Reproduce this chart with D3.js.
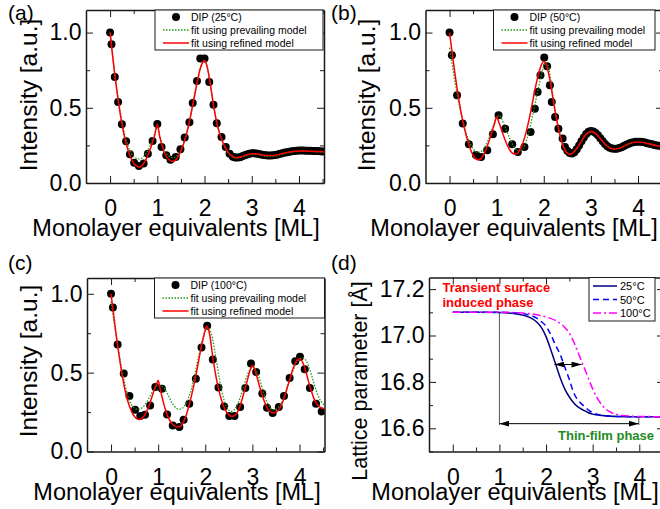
<!DOCTYPE html>
<html>
<head>
<meta charset="utf-8">
<script src="https://cdn.jsdelivr.net/npm/d3@7"></script>
<style>
  html, body { margin: 0; padding: 0; background: #fff; }
  svg { display: block; }
  text { font-family: 'Liberation Sans', Arial, Helvetica, sans-serif; }
</style>
</head>
<body>
<svg id="fig" width="660" height="509"></svg>
<script>
// ---------------- data ----------------
const xTicks = [0, 1, 2, 3, 4];
const xMinorTicks = [0.5, 1.5, 2.5, 3.5, 4.5];
const intensityTicks = [0.0, 0.5, 1.0];
const intensityMinorTicks = [0.25, 0.75];
const latticeTicks = [16.6, 16.8, 17.0, 17.2];
const latticeMinorTicks = [16.5, 16.7, 16.9, 17.1];
const panelLabels = ["(a)", "(b)", "(c)", "(d)"];
const dipLabels = ["DIP (25°C)", "DIP (50°C)", "DIP (100°C)"];
const fitLabels = ["fit using prevailing model", "fit using refined model"];
const temperatureLabels = ["25°C", "50°C", "100°C"];

// DIP 25 °C: [ML, intensity]
const dip25 = [[0,1.0],[0.03,0.922],[0.1,0.705],[0.17,0.539],[0.25,0.39],[0.34,0.277],[0.42,0.191],[0.51,0.135],[0.61,0.113],[0.71,0.129],[0.8,0.195],[0.9,0.279],[1.0,0.392],[1.09,0.24],[1.19,0.184],[1.28,0.155],[1.39,0.173],[1.49,0.224],[1.58,0.302],[1.68,0.404],[1.75,0.532],[1.84,0.678],[1.91,0.827],[2.0,0.827],[2.1,0.672],[2.19,0.52],[2.26,0.397],[2.36,0.306],[2.45,0.24],[2.53,0.195],
  [2.6,0.175],[2.65,0.17],[2.7,0.17],[2.75,0.172],[2.8,0.178],[2.85,0.185],[2.9,0.19],[2.95,0.195],[3.0,0.198],[3.05,0.198],[3.1,0.196],[3.15,0.193],[3.2,0.19],[3.25,0.186],[3.3,0.184],[3.35,0.183],[3.4,0.183],[3.45,0.184],[3.5,0.186],[3.55,0.19],[3.6,0.194],[3.65,0.198],[3.7,0.202],[3.75,0.205],[3.8,0.208],[3.85,0.211],[3.9,0.213],[3.95,0.215],[4.0,0.216],[4.05,0.216],[4.1,0.216],[4.15,0.215],[4.2,0.215],[4.25,0.214],[4.3,0.213],[4.35,0.212],[4.4,0.212],[4.45,0.211],[4.5,0.21]];
const prevailingFit25 = [[0,1.0],[0.05,0.86],[0.1,0.725],[0.15,0.605],[0.2,0.5],[0.25,0.41],[0.3,0.335],[0.35,0.275],[0.4,0.23],[0.45,0.197],[0.5,0.177],[0.55,0.165],[0.6,0.16],[0.65,0.162],[0.7,0.172],[0.75,0.19],[0.8,0.215],[0.85,0.25],[0.9,0.29],[0.95,0.335],[1.0,0.378],[1.05,0.315],[1.1,0.26],[1.15,0.22],[1.2,0.194],[1.25,0.178],[1.3,0.17],[1.35,0.169],[1.4,0.176],[1.45,0.192],[1.5,0.222],[1.55,0.26],[1.6,0.308],[1.65,0.367],[1.7,0.437],[1.75,0.515],[1.8,0.597],[1.85,0.675],[1.9,0.745],[1.95,0.793],[2.0,0.812],[2.05,0.78],[2.1,0.7],[2.15,0.6],[2.2,0.5],[2.25,0.415],[2.3,0.35],[2.35,0.3],[2.4,0.258],[2.45,0.226],[2.5,0.2],[2.55,0.183],[2.6,0.172],[2.65,0.166],[2.7,0.165],[2.8,0.172],[2.9,0.183],[3.0,0.19],[3.1,0.19],[3.2,0.184],[3.3,0.178],[3.4,0.177],[3.5,0.18],[3.6,0.188],[3.7,0.196],[3.8,0.203],[3.9,0.208],[4.0,0.21],[4.2,0.21],[4.4,0.207],[4.53,0.205]];
const refinedFit25 = [[0,1.0],[0.05,0.855],[0.1,0.72],[0.15,0.6],[0.2,0.49],[0.25,0.395],[0.3,0.315],[0.35,0.25],[0.4,0.2],[0.45,0.16],[0.5,0.133],[0.55,0.115],[0.6,0.107],[0.65,0.11],[0.7,0.125],[0.75,0.15],[0.8,0.185],[0.85,0.225],[0.9,0.27],[0.95,0.325],[1.0,0.39],[1.05,0.31],[1.1,0.25],[1.15,0.2],[1.2,0.172],[1.25,0.155],[1.3,0.145],[1.35,0.145],[1.4,0.158],[1.45,0.18],[1.5,0.215],[1.55,0.255],[1.6,0.305],[1.65,0.365],[1.7,0.44],[1.75,0.52],[1.8,0.6],[1.85,0.68],[1.9,0.75],[1.95,0.795],[2.0,0.815],[2.05,0.78],[2.1,0.7],[2.15,0.6],[2.2,0.5],[2.25,0.415],[2.3,0.35],[2.35,0.3],[2.4,0.26],[2.45,0.23],[2.5,0.205],[2.55,0.188],[2.6,0.176],[2.65,0.17],[2.7,0.169],[2.8,0.177],[2.9,0.188],[3.0,0.195],[3.1,0.194],[3.2,0.188],[3.3,0.183],[3.4,0.182],[3.5,0.185],[3.6,0.192],[3.7,0.2],[3.8,0.206],[3.9,0.211],[4.0,0.213],[4.1,0.213],[4.2,0.212],[4.3,0.211],[4.4,0.209],[4.53,0.207]];

// DIP 50 °C
const dip50 = [[0,1.0],[0.05,0.849],[0.16,0.583],[0.28,0.395],[0.41,0.257],[0.56,0.186],[0.67,0.173],[0.8,0.217],[0.92,0.324],[1.04,0.45],[1.18,0.361],[1.33,0.257],[1.45,0.206],[1.59,0.24],[1.72,0.339],[1.81,0.494],[1.87,0.605],[1.93,0.716],[2.01,0.834],[2.07,0.776],[2.13,0.65],[2.17,0.539],[2.24,0.439],[2.31,0.361],[2.4,0.295],[2.45,0.24],
  [2.5,0.215],[2.55,0.2],[2.6,0.196],[2.65,0.205],[2.7,0.225],[2.75,0.25],[2.8,0.278],[2.85,0.303],[2.9,0.325],[2.95,0.34],[3.0,0.346],[3.05,0.343],[3.1,0.333],[3.15,0.317],[3.2,0.298],[3.25,0.278],[3.3,0.26],[3.35,0.245],[3.4,0.235],[3.45,0.229],[3.5,0.227],[3.55,0.228],[3.6,0.232],[3.65,0.238],[3.7,0.246],[3.75,0.254],[3.8,0.261],[3.85,0.267],[3.9,0.271],[3.95,0.274],[4.0,0.275],[4.05,0.274],[4.1,0.272],[4.15,0.269],[4.2,0.265],[4.25,0.261],[4.3,0.257],[4.35,0.253],[4.4,0.25],[4.45,0.247],[4.5,0.245]];
const prevailingFit50 = [[0,0.9],[0.05,0.8],[0.1,0.7],[0.15,0.61],[0.2,0.53],[0.25,0.455],[0.3,0.39],[0.35,0.335],[0.4,0.29],[0.45,0.255],[0.5,0.228],[0.55,0.21],[0.6,0.203],[0.65,0.205],[0.7,0.218],[0.75,0.24],[0.8,0.27],[0.85,0.31],[0.9,0.355],[0.95,0.4],[1.0,0.435],[1.05,0.45],[1.1,0.43],[1.15,0.395],[1.2,0.355],[1.25,0.315],[1.3,0.28],[1.35,0.25],[1.4,0.228],[1.45,0.215],[1.5,0.213],[1.55,0.225],[1.6,0.255],[1.65,0.3],[1.7,0.36],[1.75,0.43],[1.8,0.5],[1.85,0.58],[1.9,0.65],[1.95,0.72],[2.0,0.78],[2.05,0.8],[2.1,0.77],[2.15,0.68],[2.2,0.57],[2.25,0.47],[2.3,0.385],[2.35,0.315],[2.4,0.262],[2.45,0.225],[2.5,0.203],[2.55,0.194],[2.6,0.197],[2.7,0.228],[2.8,0.275],[2.9,0.32],[3.0,0.338],[3.1,0.328],[3.2,0.295],[3.3,0.26],[3.4,0.235],[3.5,0.228],[3.6,0.232],[3.7,0.245],[3.8,0.258],[3.9,0.268],[4.0,0.272],[4.1,0.27],[4.2,0.264],[4.3,0.257],[4.4,0.25],[4.53,0.244]];
const refinedFit50 = [[0,1.0],[0.05,0.88],[0.1,0.76],[0.15,0.65],[0.2,0.55],[0.25,0.46],[0.3,0.385],[0.35,0.32],[0.4,0.265],[0.45,0.22],[0.5,0.185],[0.55,0.162],[0.6,0.155],[0.65,0.158],[0.7,0.175],[0.75,0.205],[0.8,0.245],[0.85,0.29],[0.9,0.34],[0.95,0.39],[1.0,0.44],[1.05,0.4],[1.1,0.355],[1.15,0.31],[1.2,0.27],[1.25,0.235],[1.3,0.21],[1.35,0.196],[1.4,0.192],[1.45,0.2],[1.5,0.225],[1.55,0.26],[1.6,0.31],[1.65,0.37],[1.7,0.44],[1.75,0.52],[1.8,0.6],[1.85,0.675],[1.9,0.74],[1.95,0.785],[2.0,0.81],[2.05,0.79],[2.1,0.73],[2.15,0.65],[2.2,0.55],[2.25,0.46],[2.3,0.38],[2.35,0.31],[2.4,0.255],[2.45,0.218],[2.5,0.198],[2.55,0.19],[2.6,0.195],[2.7,0.23],[2.8,0.28],[2.9,0.325],[3.0,0.342],[3.1,0.33],[3.2,0.295],[3.3,0.258],[3.4,0.232],[3.5,0.225],[3.6,0.23],[3.7,0.245],[3.8,0.26],[3.9,0.27],[4.0,0.273],[4.1,0.27],[4.2,0.263],[4.3,0.255],[4.4,0.248],[4.53,0.242]];

// DIP 100 °C
const dip100 = [[0,1.0],[0.04,0.913],[0.14,0.678],[0.27,0.494],[0.39,0.352],[0.51,0.265],[0.62,0.225],[0.72,0.233],[0.83,0.292],[0.94,0.409],[1.08,0.398],[1.19,0.235],[1.31,0.165],[1.45,0.155],[1.54,0.202],[1.66,0.303],[1.8,0.462],[1.92,0.659],[2.04,0.797],[2.16,0.583],[2.28,0.405],[2.4,0.286],[2.51,0.225],[2.62,0.225],[2.74,0.282],[2.85,0.403],[2.97,0.558],[3.08,0.504],[3.21,0.367],[3.31,0.278],[3.43,0.244],[3.56,0.282],[3.67,0.352],[3.79,0.466],[3.91,0.572],[4.01,0.6],[4.11,0.521],[4.22,0.403],[4.35,0.303],[4.47,0.254]];
const prevailingFit100 = [[0,0.95],[0.05,0.85],[0.1,0.75],[0.15,0.66],[0.2,0.57],[0.25,0.49],[0.3,0.42],[0.35,0.36],[0.4,0.315],[0.45,0.29],[0.5,0.275],[0.55,0.268],[0.6,0.268],[0.65,0.275],[0.7,0.29],[0.75,0.31],[0.8,0.335],[0.85,0.365],[0.9,0.39],[0.95,0.41],[1.0,0.42],[1.05,0.42],[1.1,0.41],[1.15,0.39],[1.2,0.365],[1.25,0.335],[1.3,0.305],[1.35,0.285],[1.4,0.272],[1.45,0.268],[1.5,0.272],[1.55,0.285],[1.6,0.31],[1.65,0.345],[1.7,0.39],[1.75,0.45],[1.8,0.52],[1.85,0.59],[1.9,0.66],[1.95,0.72],[2.0,0.765],[2.05,0.785],[2.1,0.77],[2.15,0.72],[2.2,0.64],[2.25,0.55],[2.3,0.46],[2.35,0.385],[2.4,0.325],[2.45,0.285],[2.5,0.262],[2.55,0.255],[2.6,0.26],[2.65,0.28],[2.7,0.31],[2.75,0.35],[2.8,0.4],[2.85,0.45],[2.9,0.49],[2.95,0.52],[3.0,0.535],[3.05,0.53],[3.1,0.5],[3.15,0.46],[3.2,0.41],[3.25,0.36],[3.3,0.32],[3.35,0.29],[3.4,0.272],[3.45,0.265],[3.5,0.268],[3.55,0.28],[3.6,0.3],[3.65,0.33],[3.7,0.37],[3.75,0.415],[3.8,0.46],[3.85,0.505],[3.9,0.54],[3.95,0.568],[4.0,0.585],[4.05,0.595],[4.1,0.59],[4.15,0.57],[4.2,0.535],[4.25,0.49],[4.3,0.44],[4.35,0.39],[4.4,0.35],[4.45,0.32],[4.53,0.295]];
const refinedFit100 = [[0,1.0],[0.05,0.88],[0.1,0.76],[0.15,0.65],[0.2,0.55],[0.25,0.46],[0.3,0.385],[0.35,0.325],[0.4,0.28],[0.45,0.245],[0.5,0.222],[0.55,0.207],[0.6,0.203],[0.65,0.208],[0.7,0.225],[0.75,0.25],[0.8,0.285],[0.85,0.33],[0.9,0.375],[0.95,0.415],[1.0,0.45],[1.04,0.4],[1.08,0.35],[1.12,0.3],[1.16,0.26],[1.2,0.225],[1.25,0.195],[1.3,0.175],[1.35,0.163],[1.4,0.157],[1.45,0.157],[1.5,0.168],[1.55,0.195],[1.6,0.235],[1.65,0.285],[1.7,0.345],[1.75,0.41],[1.8,0.48],[1.85,0.56],[1.9,0.64],[1.95,0.71],[2.0,0.77],[2.03,0.795],[2.07,0.77],[2.1,0.73],[2.15,0.62],[2.2,0.52],[2.25,0.44],[2.3,0.375],[2.35,0.32],[2.4,0.28],[2.45,0.25],[2.5,0.232],[2.55,0.223],[2.6,0.225],[2.65,0.235],[2.7,0.26],[2.75,0.3],[2.8,0.35],[2.85,0.405],[2.9,0.46],[2.95,0.515],[3.0,0.545],[3.05,0.52],[3.1,0.47],[3.15,0.415],[3.2,0.365],[3.25,0.32],[3.3,0.285],[3.35,0.262],[3.4,0.25],[3.45,0.245],[3.5,0.25],[3.55,0.262],[3.6,0.285],[3.65,0.32],[3.7,0.365],[3.75,0.415],[3.8,0.465],[3.85,0.515],[3.9,0.555],[3.95,0.58],[4.0,0.59],[4.05,0.575],[4.1,0.54],[4.15,0.49],[4.2,0.435],[4.25,0.385],[4.3,0.34],[4.35,0.31],[4.4,0.29],[4.45,0.278],[4.53,0.27]];

// lattice parameter [Å] vs ML
const lattice25 = [[0,17.1],[0.5,17.1],[1.0,17.099],[1.2,17.097],[1.4,17.092],[1.6,17.082],[1.7,17.073],[1.8,17.058],[1.9,17.035],[2.0,16.995],[2.1,16.94],[2.2,16.88],[2.3,16.82],[2.4,16.77],[2.5,16.735],[2.6,16.708],[2.7,16.69],[2.8,16.678],[2.9,16.668],[3.0,16.661],[3.2,16.655],[3.5,16.651],[4.0,16.65],[4.53,16.65]];
const lattice50 = [[0,17.1],[1.0,17.1],[1.4,17.097],[1.6,17.09],[1.8,17.075],[1.9,17.06],[2.0,17.04],[2.1,17.005],[2.2,16.96],[2.3,16.92],[2.4,16.865],[2.5,16.81],[2.6,16.75],[2.7,16.718],[2.8,16.698],[2.9,16.68],[3.0,16.668],[3.2,16.656],[3.5,16.651],[4.0,16.65],[4.53,16.65]];
const lattice100 = [[0,17.1],[1.0,17.1],[1.4,17.098],[1.7,17.093],[2.0,17.08],[2.2,17.065],[2.4,17.035],[2.5,17.01],[2.6,16.97],[2.7,16.92],[2.8,16.87],[2.9,16.82],[3.0,16.77],[3.1,16.73],[3.2,16.7],[3.3,16.68],[3.4,16.668],[3.6,16.657],[3.8,16.653],[4.0,16.651],[4.53,16.65]];

// phase annotations (ML, Å)
const phaseBoundaryML = 1.0;
const surfacePhaseLevel = 17.1;
const thinFilmSpanML = [1.0, 3.99];
const thinFilmLevel = 16.62;
const thinFilmEndTick = [16.614, 16.65];
const shiftSpanML = [2.18, 2.76];
const shiftLevel = 16.875;
const phaseTexts = ["Transient surface", "induced phase", "Thin-film phase"];

// ---------------- drawing ----------------
const FONT = "'Liberation Sans', Arial, Helvetica, sans-serif";
const AXIS = "#1a1a1a";
const RED = "#ff0000", GREEN = "#1e9a1e";
const svg = d3.select("#fig");
const defs = svg.append("defs");

defs.append("marker")
  .attr("id", "arrowHead")
  .attr("viewBox", "0 0 10 6")
  .attr("refX", 10).attr("refY", 3)
  .attr("markerWidth", 10).attr("markerHeight", 6)
  .attr("markerUnits", "userSpaceOnUse")
  .attr("orient", "auto-start-reverse")
  .append("path").attr("d", "M0,0L10,3L0,6Z").attr("fill", "#000");

const xDomain = [-0.51, 4.53];

function styleAxis(sel, fontSize) {
  sel.attr("font-family", FONT).attr("font-size", fontSize);
  sel.selectAll("path.domain").attr("stroke", AXIS).attr("stroke-width", 1.5);
  sel.selectAll(".tick line").attr("stroke", AXIS).attr("stroke-width", 1);
  sel.selectAll(".tick text").attr("fill", "#000");
}

function buildPanel(cfg) {
  const g = svg.append("g");
  const x = d3.scaleLinear().domain(xDomain).range([cfg.left, cfg.right]);
  const y = d3.scaleLinear().domain(cfg.yDomain).range([cfg.bottom, cfg.top]);
  const clipId = "clip-" + cfg.key;
  defs.append("clipPath").attr("id", clipId).append("rect")
    .attr("x", cfg.left).attr("y", cfg.top)
    .attr("width", cfg.right - cfg.left).attr("height", cfg.bottom - cfg.top);

  const fmt = d3.format(".1f");
  // minor ticks (inward)
  g.append("g").attr("transform", `translate(0,${cfg.bottom})`)
    .call(d3.axisBottom(x).tickValues(xMinorTicks).tickSize(-4).tickSizeOuter(0).tickFormat(""))
    .call(s => { styleAxis(s, 10); s.select("path.domain").remove(); });
  g.append("g").attr("transform", `translate(0,${cfg.top})`)
    .call(d3.axisTop(x).tickValues(xMinorTicks).tickSize(-4).tickSizeOuter(0).tickFormat(""))
    .call(s => { styleAxis(s, 10); s.select("path.domain").remove(); });
  g.append("g").attr("transform", `translate(${cfg.left},0)`)
    .call(d3.axisLeft(y).tickValues(cfg.yMinor).tickSize(-4).tickSizeOuter(0).tickFormat(""))
    .call(s => { styleAxis(s, 10); s.select("path.domain").remove(); });
  g.append("g").attr("transform", `translate(${cfg.right},0)`)
    .call(d3.axisRight(y).tickValues(cfg.yMinor).tickSize(-4).tickSizeOuter(0).tickFormat(""))
    .call(s => { styleAxis(s, 10); s.select("path.domain").remove(); });

  // major ticks, labels and frame
  g.append("g").attr("transform", `translate(0,${cfg.bottom})`)
    .call(d3.axisBottom(x).tickValues(xTicks).tickSize(-7).tickSizeOuter(0).tickPadding(17).tickFormat(d3.format("d")))
    .call(s => styleAxis(s, 23));
  g.append("g").attr("transform", `translate(0,${cfg.top})`)
    .call(d3.axisTop(x).tickValues(xTicks).tickSize(-7).tickSizeOuter(0).tickFormat(""))
    .call(s => styleAxis(s, 10));
  g.append("g").attr("transform", `translate(${cfg.left},0)`)
    .call(d3.axisLeft(y).tickValues(cfg.yTicks).tickSize(-7).tickSizeOuter(0).tickPadding(4.5).tickFormat(fmt))
    .call(s => styleAxis(s, 23));
  g.append("g").attr("transform", `translate(${cfg.right},0)`)
    .call(d3.axisRight(y).tickValues(cfg.yTicks).tickSize(-7).tickSizeOuter(0).tickFormat(""))
    .call(s => styleAxis(s, 10));

  // axis titles
  g.append("text")
    .attr("x", cfg.xTitleX).attr("y", cfg.xTitleY)
    .attr("text-anchor", "middle").attr("font-size", 23.5)
    .text("Monolayer equivalents [ML]");
  g.append("text")
    .attr("transform", `translate(${cfg.yTitleX},${cfg.yTitleY}) rotate(-90)`)
    .attr("text-anchor", "middle").attr("font-size", cfg.yTitleSize)
    .text(cfg.yTitle);

  // panel label
  g.append("text").attr("x", cfg.labelX).attr("y", cfg.labelY)
    .attr("font-size", 21).text(cfg.label);

  const plot = g.append("g").attr("clip-path", `url(#${clipId})`);
  return { g, plot, x, y };
}

function intensityPanel(cfg, dip, prevailing, refined, dipLabel) {
  const p = buildPanel(cfg);
  const line = d3.line().x(d => p.x(d[0])).y(d => p.y(d[1])).curve(d3.curveMonotoneX);

  p.plot.append("g").selectAll("circle").data(dip).join("circle")
    .attr("cx", d => p.x(d[0])).attr("cy", d => p.y(d[1])).attr("r", 4)
    .attr("fill", "#000");
  p.plot.append("path").datum(prevailing).attr("d", line)
    .attr("fill", "none").attr("stroke", GREEN).attr("stroke-width", 1.3)
    .attr("stroke-dasharray", "1.5,1.5");
  p.plot.append("path").datum(refined).attr("d", line)
    .attr("fill", "none").attr("stroke", RED).attr("stroke-width", 1.5);

  // legend
  const L = cfg.legend;
  const lg = p.g.append("g");
  lg.append("rect").attr("x", L.x).attr("y", L.y).attr("width", L.w).attr("height", L.h)
    .attr("fill", "#fff").attr("stroke", AXIS).attr("stroke-width", 1);
  const rows = [L.y + 7, L.y + 20, L.y + 33];
  lg.append("circle").attr("cx", L.x + 21).attr("cy", rows[0]).attr("r", 4).attr("fill", "#000");
  lg.append("line").attr("x1", L.x + 8).attr("x2", L.x + 34).attr("y1", rows[1]).attr("y2", rows[1])
    .attr("stroke", GREEN).attr("stroke-width", 1.3).attr("stroke-dasharray", "1.5,1.5");
  lg.append("line").attr("x1", L.x + 8).attr("x2", L.x + 34).attr("y1", rows[2]).attr("y2", rows[2])
    .attr("stroke", RED).attr("stroke-width", 1.5);
  [dipLabel, fitLabels[0], fitLabels[1]].forEach((t, i) => {
    lg.append("text").attr("x", L.x + 36).attr("y", rows[i] + 4)
      .attr("font-size", 10.5).text(t);
  });
}

intensityPanel({
  key: "a", left: 86, right: 324, top: 10, bottom: 183,
  yDomain: [0, 1.15], yTicks: intensityTicks, yMinor: intensityMinorTicks,
  xTitleX: 176, xTitleY: 236, yTitleX: 37, yTitleY: 95, yTitle: "Intensity [a.u.]", yTitleSize: 24.5,
  label: panelLabels[0], labelX: 8, labelY: 20,
  legend: { x: 155, y: 10, w: 168, h: 40 }
}, dip25, prevailingFit25, refinedFit25, dipLabels[0]);

intensityPanel({
  key: "b", left: 425.5, right: 663, top: 10, bottom: 183,
  yDomain: [0, 1.15], yTicks: intensityTicks, yMinor: intensityMinorTicks,
  xTitleX: 514, xTitleY: 236, yTitleX: 375, yTitleY: 95, yTitle: "Intensity [a.u.]", yTitleSize: 24.5,
  label: panelLabels[1], labelX: 331, labelY: 20,
  legend: { x: 493.5, y: 10, w: 161.5, h: 40 }
}, dip50, prevailingFit50, refinedFit50, dipLabels[1]);

intensityPanel({
  key: "c", left: 87, right: 324.5, top: 278, bottom: 451.5,
  yDomain: [0, 1.1], yTicks: intensityTicks, yMinor: intensityMinorTicks,
  xTitleX: 177, xTitleY: 500, yTitleX: 37, yTitleY: 361, yTitle: "Intensity [a.u.]", yTitleSize: 24.5,
  label: panelLabels[2], labelX: 8, labelY: 270,
  legend: { x: 154.5, y: 278, w: 170, h: 40 }
}, dip100, prevailingFit100, refinedFit100, dipLabels[2]);

// panel (d): lattice parameter
(function () {
  const cfg = {
    key: "d", left: 429, right: 664, top: 277.5, bottom: 451.5,
    yDomain: [16.5, 17.25], yTicks: latticeTicks, yMinor: latticeMinorTicks,
    xTitleX: 515, xTitleY: 500, yTitleX: 367, yTitleY: 381, yTitle: "Lattice parameter [Å]", yTitleSize: 21.5,
    label: panelLabels[3], labelX: 331, labelY: 270
  };
  const p = buildPanel(cfg);
  const line = d3.line().x(d => p.x(d[0])).y(d => p.y(d[1])).curve(d3.curveMonotoneX);

  // phase boundary and arrows
  p.plot.append("line")
    .attr("x1", p.x(phaseBoundaryML)).attr("x2", p.x(phaseBoundaryML))
    .attr("y1", p.y(surfacePhaseLevel)).attr("y2", p.y(thinFilmEndTick[0]))
    .attr("stroke", "#555").attr("stroke-width", 1);
  p.plot.append("line")
    .attr("x1", p.x(thinFilmSpanML[1])).attr("x2", p.x(thinFilmSpanML[1]))
    .attr("y1", p.y(thinFilmEndTick[1])).attr("y2", p.y(thinFilmEndTick[0]))
    .attr("stroke", "#555").attr("stroke-width", 1);
  p.plot.append("line")
    .attr("x1", p.x(thinFilmSpanML[0])).attr("x2", p.x(thinFilmSpanML[1]))
    .attr("y1", p.y(thinFilmLevel)).attr("y2", p.y(thinFilmLevel))
    .attr("stroke", "#000").attr("stroke-width", 1)
    .attr("marker-start", "url(#arrowHead)").attr("marker-end", "url(#arrowHead)");

  const series = [
    { data: lattice25, color: "#00007f", dash: null },
    { data: lattice50, color: "#0000ff", dash: "6,4" },
    { data: lattice100, color: "#ff00ff", dash: "8,3,2,3" }
  ];
  series.forEach(s => {
    p.plot.append("path").datum(s.data).attr("d", line)
      .attr("fill", "none").attr("stroke", s.color).attr("stroke-width", 1.5)
      .attr("stroke-dasharray", s.dash);
  });

  p.plot.append("line")
    .attr("x1", p.x(shiftSpanML[0])).attr("x2", p.x(shiftSpanML[1]))
    .attr("y1", p.y(shiftLevel)).attr("y2", p.y(shiftLevel))
    .attr("stroke", "#000").attr("stroke-width", 1.2)
    .attr("marker-start", "url(#arrowHead)").attr("marker-end", "url(#arrowHead)");

  // phase labels
  p.g.append("text").attr("x", 442.5).attr("y", 292).attr("font-size", 13)
    .attr("font-weight", "bold").attr("fill", "#ff0000").text(phaseTexts[0]);
  p.g.append("text").attr("x", 442.5).attr("y", 307).attr("font-size", 13)
    .attr("font-weight", "bold").attr("fill", "#ff0000").text(phaseTexts[1]);
  p.g.append("text").attr("x", 558).attr("y", 439.5).attr("font-size", 13)
    .attr("font-weight", "bold").attr("fill", "#1e8c1e").text(phaseTexts[2]);

  // legend
  const L = { x: 589, y: 277.5, w: 66, h: 43.5 };
  const lg = p.g.append("g");
  lg.append("rect").attr("x", L.x).attr("y", L.y).attr("width", L.w).attr("height", L.h)
    .attr("fill", "#fff").attr("stroke", AXIS).attr("stroke-width", 1);
  series.forEach((s, i) => {
    const ry = L.y + 8.5 + i * 13.5;
    lg.append("line").attr("x1", L.x + 4).attr("x2", L.x + 28).attr("y1", ry).attr("y2", ry)
      .attr("stroke", s.color).attr("stroke-width", 1.5).attr("stroke-dasharray", s.dash);
    lg.append("text").attr("x", L.x + 31).attr("y", ry + 4).attr("font-size", 11)
      .text(temperatureLabels[i]);
  });
})();
</script>
</body>
</html>
